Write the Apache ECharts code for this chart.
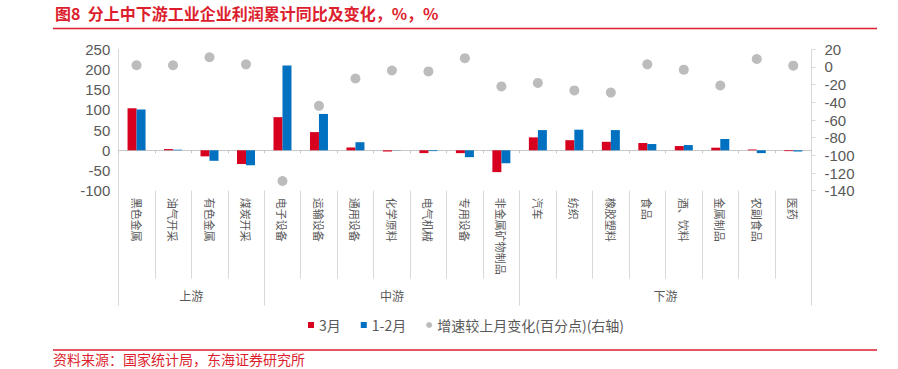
<!DOCTYPE html>
<html>
<head>
<meta charset="utf-8">
<script src="https://cdn.jsdelivr.net/npm/echarts@6/dist/echarts.min.js"></script>
<style>
html,body{margin:0;padding:0;background:#fff;}
#c{width:898px;height:369px;}
</style>
</head>
<body>
<div id="c"></div>
<script>
var titleText = '图8  分上中下游工业企业利润累计同比及变化，%，%';
var sourceText = '资料来源：国家统计局，东海证券研究所';
var categories = ['黑色金属','油气开采','有色金属','煤炭开采','电子设备','运输设备','通用设备','化学原料','电气机械','专用设备','非金属矿物制品','汽车','纺织','橡胶塑料','食品','酒、饮料','金属制品','农副食品','医药'];
var groupNames = ['上游','中游','下游'];
var groupSizes = [4, 7, 8];
var seriesNames = ['3月','1-2月','增速较上月变化(百分点)(右轴)'];
var marValues = [104, 3, -15, -34, 82, 45, 7, -3, -7, -7, -54, 32, 25, 21, 18, 10.5, 6.5, 2, -2];
var janFebValues = [101, 1.5, -26, -37, 210, 90, 20, 0.5, -2, -17, -32, 50, 51, 50, 15.5, 13, 28, -7, -3];
var changeValues = [2, 2, 11, 3, -129, -44, -13, -4, -5, 10, -22, -18, -26.5, -29, 3, -3, -21, 9, 1.5];

var groupBounds = [0];
groupSizes.forEach(function(s){ groupBounds.push(groupBounds[groupBounds.length-1] + s); });
var groupCenters = groupSizes.map(function(s, i){ return groupBounds[i] + s / 2; });

var FONT = '"Liberation Sans", "Noto Sans CJK SC", sans-serif';
var CJK = '"Noto Sans CJK SC", "Liberation Sans", sans-serif';
var RED = '#D7001F', BLUE = '#0070C0', GREY = '#ABABAB';
var TXT = '#595959', AX = '#D9D9D9', TRED = '#DC1E2E';

var chart = echarts.init(document.getElementById('c'), null, {renderer: 'svg'});
chart.setOption({
  animation: false,
  backgroundColor: '#fff',
  title: [
    {text: titleText, left: 55, top: 5, padding: 0, textStyle: {fontSize: 16, fontWeight: 'bold', color: TRED, fontFamily: CJK}},
    {text: sourceText, left: 53, top: 352, padding: 0, textStyle: {fontSize: 14, fontWeight: 'normal', color: TRED, fontFamily: CJK}}
  ],
  graphic: [
    {type: 'line', shape: {x1: 53, y1: 28.5, x2: 877, y2: 28.5}, style: {stroke: TRED, lineWidth: 1.5}},
    {type: 'line', shape: {x1: 53, y1: 350, x2: 877, y2: 350}, style: {stroke: TRED, lineWidth: 1.5}}
  ],
  legend: {
    left: 308, top: 318, padding: 0, itemWidth: 6, itemHeight: 6, itemGap: 20,
    textStyle: {fontSize: 14, color: TXT, fontFamily: CJK},
    data: [
      {name: seriesNames[0], icon: 'rect'},
      {name: seriesNames[1], icon: 'rect'},
      {name: seriesNames[2], icon: 'circle'}
    ]
  },
  grid: {left: 118.3, right: 86.5, top: 49.3, bottom: 178.3, containLabel: false},
  xAxis: [
    {type: 'category', data: categories, position: 'bottom',
     axisLine: {onZero: true, onZeroAxisIndex: 0, lineStyle: {color: '#C8C8C8', width: 1}},
     axisTick: {show: true, length: 3, interval: 0, lineStyle: {color: '#C8C8C8'}},
     axisLabel: {show: false}, splitLine: {show: false}},
    {type: 'category', data: categories, position: 'bottom', offset: 0,
     axisLine: {show: false, onZero: false},
     axisTick: {show: true, length: 88, interval: 0, lineStyle: {color: AX}},
     axisLabel: {show: true, interval: 0, rotate: -90, margin: 7, fontSize: 11, color: TXT, fontFamily: CJK},
     splitLine: {show: false}},
    {type: 'value', min: 0, max: categories.length, position: 'bottom', offset: 0,
     axisLine: {show: false, onZero: false},
     axisTick: {show: true, length: 115, customValues: groupBounds, lineStyle: {color: AX}},
     axisLabel: {show: true, customValues: groupCenters, margin: 99, fontSize: 12, color: TXT, fontFamily: CJK,
       formatter: function(v){ var i = groupCenters.indexOf(v); return i >= 0 ? groupNames[i] : ''; }},
     splitLine: {show: false}}
  ],
  yAxis: [
    {type: 'value', min: -100, max: 250, interval: 50, position: 'left',
     axisLine: {show: true, onZero: false, lineStyle: {color: AX}},
     axisTick: {show: false},
     axisLabel: {margin: 8, fontSize: 15, color: TXT, fontFamily: FONT},
     splitLine: {show: false}},
    {type: 'value', min: -140, max: 20, interval: 20, position: 'right',
     axisLine: {show: true, onZero: false, lineStyle: {color: AX}},
     axisTick: {show: true, length: 4, lineStyle: {color: AX}},
     axisLabel: {margin: 13, fontSize: 15, color: TXT, fontFamily: FONT},
     splitLine: {show: false}}
  ],
  series: [
    {name: seriesNames[0], type: 'bar', xAxisIndex: 0, yAxisIndex: 0, data: marValues,
     barWidth: 9, barGap: '0%', itemStyle: {color: RED}},
    {name: seriesNames[1], type: 'bar', xAxisIndex: 0, yAxisIndex: 0, data: janFebValues,
     barWidth: 9, barGap: '0%', itemStyle: {color: BLUE}},
    {name: seriesNames[2], type: 'scatter', xAxisIndex: 0, yAxisIndex: 1, data: changeValues,
     symbol: 'circle', symbolSize: 10, itemStyle: {color: GREY}, z: 3}
  ]
});
</script>
</body>
</html>
